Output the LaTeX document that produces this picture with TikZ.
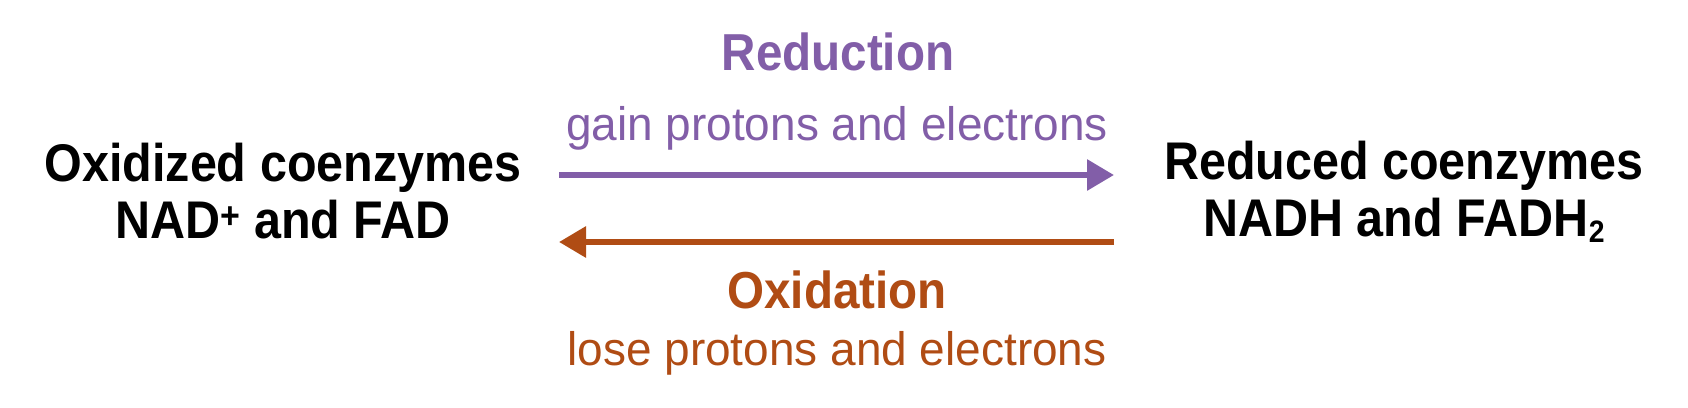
\documentclass[tikz,border=0pt]{standalone}
\usepackage{fontspec}
\setmainfont{Liberation Sans}
\usetikzlibrary{arrows.meta}
\definecolor{redpurple}{HTML}{825EA8}
\definecolor{oxorange}{HTML}{B04C14}
\newcommand{\narrowb}[1]{\scalebox{0.915}[1]{#1}}
\newcommand{\narrowr}[1]{\scalebox{0.978}[1]{#1}}
\newcommand{\subtwo}{\raisebox{-6pt}{\fontsize{31}{31}\selectfont 2}}
\begin{document}
\begin{tikzpicture}[x=1pt,y=-1pt,
  big/.style={font=\fontsize{53}{60}\selectfont\bfseries, inner sep=0pt, anchor=base},
  title/.style={font=\fontsize{52}{60}\selectfont\bfseries, inner sep=0pt, anchor=base},
  sub/.style={font=\fontsize{47}{55}\selectfont, inner sep=0pt, anchor=base},
  arr/.style={line width=6pt, -{Triangle[length=27pt,width=30pt]}}]
\useasboundingbox[fill=white] (0,0) rectangle (1688,407);
\node[big] (ox1) at (283,181) {\narrowb{Oxidized coenzymes}};
\node[big] (ox2) at (283,238) {\narrowb{NAD\textsuperscript{+} and FAD}};
\node[big] (re1) at (1404,179) {\narrowb{Reduced coenzymes}};
\node[big] (re2) at (1404,236) {\narrowb{NADH and FADH\subtwo}};
\node[title, text=redpurple] (redt) at (838,70) {\narrowb{Reduction}};
\node[sub, text=redpurple] (redl) at (837,140) {\narrowr{gain protons and electrons}};
\node[title, text=oxorange] (oxt) at (837,308) {\narrowb{Oxidation}};
\node[sub, text=oxorange] (oxl) at (837,365) {\narrowr{lose protons and electrons}};
\coordinate (r1) at (559,175);
\coordinate (r2) at (1114,175);
\coordinate (o1) at (1114,242);
\coordinate (o2) at (559,242);
\draw[arr, redpurple] (r1) -- (r2);
\draw[arr, oxorange] (o1) -- (o2);
\end{tikzpicture}
\end{document}
